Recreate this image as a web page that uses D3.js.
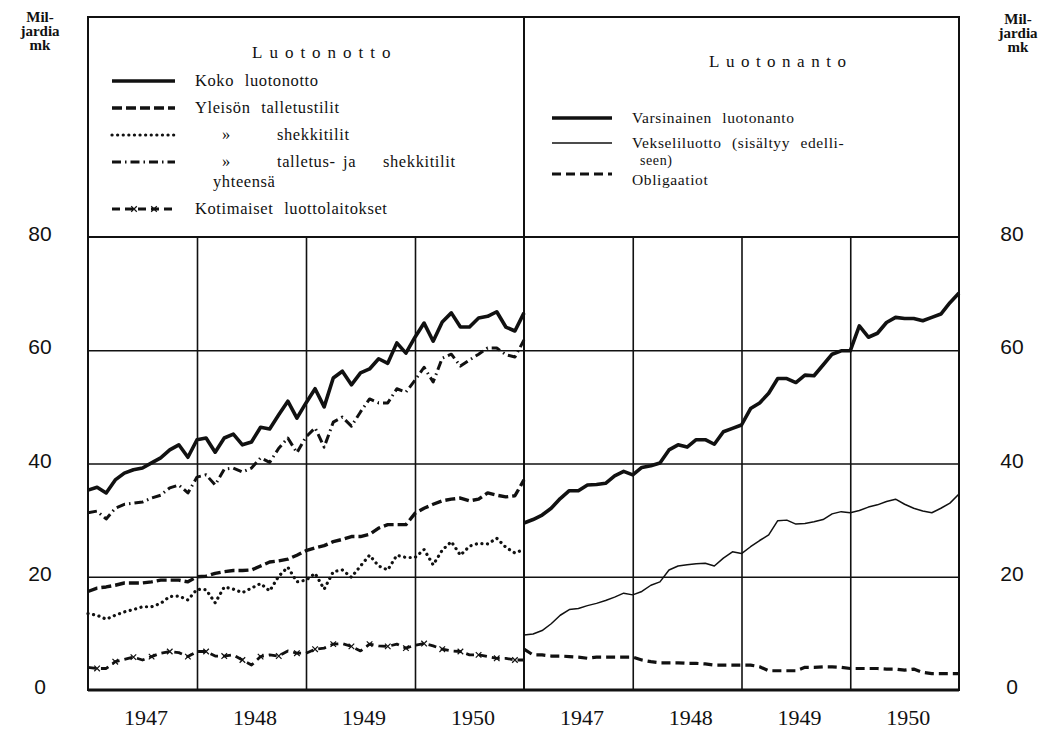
<!DOCTYPE html>
<html>
<head>
<meta charset="utf-8">
<script src="https://cdn.jsdelivr.net/npm/d3@7"></script>
<style>
  body { margin: 0; background: #fff; }
  text { fill: #111; }
</style>
</head>
<body>
<div id="wrapper"></div>
<script>
// monthly values, end of Dec 1946 .. end of Dec 1950 (49 points), milliards mk
const years = ["1947", "1948", "1949", "1950"]
const yTicks = [0, 20, 40, 60, 80]

// Luotonotto (left panel)
const kokoLuotonotto = [35.3, 35.8, 34.8, 37.1, 38.3, 38.9, 39.2, 40.1, 41.0, 42.4, 43.3, 41.1, 44.2,
  44.5, 42.0, 44.5, 45.2, 43.3, 43.8, 46.4, 46.1, 48.6, 51.0, 48.0, 50.7,
  53.2, 50.0, 55.1, 56.3, 53.9, 56.0, 56.7, 58.5, 57.7, 61.3, 59.5, 62.3,
  64.8, 61.6, 65.0, 66.6, 64.1, 64.1, 65.7, 66.0, 66.8, 64.1, 63.4, 66.6]
const talletustilit = [17.4, 18.0, 18.2, 18.5, 18.9, 18.9, 18.9, 19.1, 19.4, 19.4, 19.4, 19.1, 20.0,
  20.1, 20.6, 20.9, 21.1, 21.1, 21.2, 21.9, 22.6, 22.8, 23.1, 23.8, 24.6,
  25.1, 25.5, 26.2, 26.6, 27.1, 27.1, 27.5, 28.6, 29.2, 29.2, 29.2, 31.2,
  32.1, 32.8, 33.4, 33.7, 33.9, 33.4, 33.7, 34.8, 34.4, 34.1, 34.3, 37.1]
const shekkitilit = [13.5, 13.2, 12.5, 13.2, 13.8, 14.2, 14.7, 14.7, 15.3, 16.5, 16.6, 15.9, 17.8,
  17.7, 15.4, 18.2, 17.8, 17.2, 18.0, 18.8, 17.5, 20.1, 21.7, 19.1, 19.4,
  20.6, 17.8, 20.9, 21.2, 19.9, 21.9, 23.8, 21.9, 21.2, 23.8, 23.4, 23.4,
  24.8, 22.1, 24.7, 26.2, 23.8, 25.4, 25.9, 25.8, 26.8, 25.2, 24.2, 24.8]
const yhteensa = [31.3, 31.6, 30.2, 32.1, 32.8, 33.0, 33.2, 33.9, 34.4, 35.7, 36.2, 34.8, 37.6,
  38.0, 36.2, 39.0, 39.2, 38.5, 39.2, 41.0, 40.2, 42.7, 44.5, 41.9, 44.7,
  46.3, 42.9, 47.3, 48.2, 46.6, 49.1, 51.4, 50.7, 50.7, 53.2, 52.6, 54.7,
  57.0, 54.4, 58.6, 59.3, 57.2, 58.3, 59.3, 60.4, 60.4, 59.2, 58.8, 61.8]
const kotimaiset = [4.0, 3.8, 3.8, 5.0, 5.4, 5.8, 5.3, 5.9, 6.5, 6.8, 6.6, 5.9, 6.8,
  6.8, 6.0, 6.0, 6.2, 5.3, 4.4, 5.9, 6.2, 6.0, 6.9, 6.5, 6.5,
  7.2, 7.4, 8.1, 8.2, 7.7, 6.9, 8.1, 7.8, 7.7, 8.1, 7.4, 7.9,
  8.2, 7.8, 7.2, 6.9, 6.8, 6.2, 6.2, 5.9, 5.6, 5.6, 5.3, 5.3]

// Luotonanto (right panel)
const varsinainen = [29.5, 30.1, 30.9, 32.1, 33.8, 35.2, 35.2, 36.2, 36.3, 36.5, 37.8, 38.6, 38.0,
  39.3, 39.6, 40.1, 42.4, 43.3, 42.9, 44.2, 44.2, 43.4, 45.6, 46.2, 46.8,
  49.7, 50.7, 52.4, 55.0, 55.0, 54.3, 55.6, 55.5, 57.4, 59.3, 59.9, 59.9,
  64.3, 62.3, 63.0, 64.9, 65.8, 65.6, 65.6, 65.2, 65.8, 66.4, 68.4, 70.1]
const vekseliluotto = [9.7, 9.9, 10.5, 11.7, 13.2, 14.2, 14.4, 14.9, 15.3, 15.8, 16.4, 17.1, 16.8,
  17.4, 18.5, 19.1, 21.2, 21.9, 22.1, 22.3, 22.4, 21.9, 23.3, 24.4, 24.1,
  25.3, 26.4, 27.4, 29.9, 30.0, 29.3, 29.4, 29.7, 30.1, 31.1, 31.5, 31.3,
  31.7, 32.3, 32.7, 33.3, 33.7, 32.8, 32.1, 31.6, 31.3, 32.1, 33.0, 34.6]
const obligaatiot = [7.2, 6.2, 6.2, 6.0, 6.0, 5.9, 5.8, 5.6, 5.8, 5.8, 5.8, 5.8, 5.8,
  5.3, 5.0, 4.8, 4.8, 4.8, 4.7, 4.7, 4.6, 4.4, 4.4, 4.4, 4.4,
  4.4, 4.1, 3.4, 3.4, 3.4, 3.4, 4.0, 4.0, 4.1, 4.1, 4.0, 3.8,
  3.8, 3.8, 3.8, 3.7, 3.7, 3.5, 3.7, 3.1, 2.9, 2.9, 2.9, 2.9]

function drawChart() {
  const dimensions = {
    width: 1042,
    height: 730,
    legendTop: 17,
    plotTop: 237,
    plotBottom: 690,
    left: 88,
    middle: 524,
    right: 959,
  }

  const svg = d3.select("#wrapper")
    .append("svg")
      .attr("width", dimensions.width)
      .attr("height", dimensions.height)
      .style("font-family", "'Liberation Serif', serif")

  const yScale = d3.scaleLinear()
    .domain([0, 80])
    .range([dimensions.plotBottom, dimensions.plotTop])
  const xLeft = d3.scaleLinear()
    .domain([0, 48])
    .range([dimensions.left, dimensions.middle])
  const xRight = d3.scaleLinear()
    .domain([0, 48])
    .range([dimensions.middle, dimensions.right])

  // grid
  const hGrid = svg.append("g")
    .attr("transform", `translate(${dimensions.left},0)`)
    .call(d3.axisLeft(yScale)
      .tickValues([20, 40, 60])
      .tickSize(-(dimensions.right - dimensions.left))
      .tickFormat(""))
  hGrid.select(".domain").remove()
  hGrid.selectAll("line").attr("stroke", "#111").attr("stroke-width", 1.6)

  ;[xLeft, xRight].forEach(x => {
    const vGrid = svg.append("g")
      .attr("transform", `translate(0,${dimensions.plotBottom})`)
      .call(d3.axisBottom(x)
        .tickValues([12, 24, 36])
        .tickSize(-(dimensions.plotBottom - dimensions.plotTop))
        .tickFormat(""))
    vGrid.select(".domain").remove()
    vGrid.selectAll("line").attr("stroke", "#111").attr("stroke-width", 1.6)
  })

  // frame
  svg.append("rect")
    .attr("x", dimensions.left)
    .attr("y", dimensions.legendTop)
    .attr("width", dimensions.right - dimensions.left)
    .attr("height", dimensions.plotBottom - dimensions.legendTop)
    .attr("fill", "none")
    .attr("stroke", "#111")
    .attr("stroke-width", 2)
  svg.append("line")
    .attr("x1", dimensions.middle).attr("x2", dimensions.middle)
    .attr("y1", dimensions.legendTop).attr("y2", dimensions.plotBottom)
    .attr("stroke", "#111").attr("stroke-width", 2)
  svg.append("line")
    .attr("x1", dimensions.left).attr("x2", dimensions.right)
    .attr("y1", yScale(80)).attr("y2", yScale(80))
    .attr("stroke", "#111").attr("stroke-width", 2)
  svg.append("line")
    .attr("x1", dimensions.left).attr("x2", dimensions.right)
    .attr("y1", yScale(0)).attr("y2", yScale(0))
    .attr("stroke", "#111").attr("stroke-width", 3)

  // y labels both sides
  ;[40, 1012].forEach(xPos => {
    const yAxis = svg.append("g")
      .attr("transform", `translate(${xPos},-3)`)
      .call(d3.axisLeft(yScale).tickValues(yTicks).tickSize(0).tickPadding(0))
    yAxis.select(".domain").remove()
    yAxis.selectAll("text")
      .attr("text-anchor", "middle")
      .style("font-family", "'Liberation Sans', sans-serif")
      .style("font-size", "21px")
      .attr("fill", "#111")
  })

  // year labels
  ;[xLeft, xRight].forEach(x => {
    const xAxis = svg.append("g")
      .attr("transform", `translate(3,${dimensions.plotBottom})`)
      .call(d3.axisBottom(x)
        .tickValues([6, 18, 30, 42])
        .tickFormat((d, i) => years[i])
        .tickSize(0)
        .tickPadding(19))
    xAxis.select(".domain").remove()
    xAxis.selectAll("text")
      .style("font-family", "'Liberation Serif', serif")
      .style("font-size", "22px")
      .attr("fill", "#111")
  })

  // unit labels
  ;[[40, 0], [1018, 2]].forEach(([xPos, off]) => {
    ["Mil-", "jardia", "mk"].forEach((t, i) => {
      svg.append("text")
        .attr("x", xPos)
        .attr("y", 22 + off + i * 14)
        .attr("text-anchor", "middle")
        .style("font-size", "15px")
        .style("font-weight", "bold")
        .text(t)
    })
  })

  // series
  const series = [
    { values: kokoLuotonotto, x: xLeft, width: 3.6, dash: null },
    { values: yhteensa, x: xLeft, width: 3, dash: "9,4,1.5,4", cap: "butt" },
    { values: talletustilit, x: xLeft, width: 3.4, dash: "10,4" },
    { values: shekkitilit, x: xLeft, width: 3.2, dash: "0.1,5.5", cap: "round" },
    { values: kotimaiset, x: xLeft, width: 2.8, dash: "8,5", marks: true },
    { values: varsinainen, x: xRight, width: 3.6, dash: null },
    { values: vekseliluotto, x: xRight, width: 1.5, dash: null },
    { values: obligaatiot, x: xRight, width: 3.2, dash: "9,5" },
  ]

  series.forEach(s => {
    const lineGenerator = d3.line()
      .x((d, i) => s.x(i))
      .y(d => yScale(d))
    svg.append("path")
      .attr("d", lineGenerator(s.values))
      .attr("fill", "none")
      .attr("stroke", "#111")
      .attr("stroke-width", s.width)
      .attr("stroke-linejoin", "round")
      .attr("stroke-linecap", s.cap || "butt")
      .attr("stroke-dasharray", s.dash)
    if (s.marks) {
      svg.append("g").selectAll("path")
        .data(s.values.map((v, i) => [i, v]).filter(d => d[0] % 2 == 1))
        .join("path")
          .attr("transform", d => `translate(${s.x(d[0])},${yScale(d[1])})`)
          .attr("d", d3.symbol().type(d3.symbolTimes || d3.symbolCross).size(22))
          .attr("fill", "none")
          .attr("stroke", "#111")
          .attr("stroke-width", 1.2)
    }
  })

  // legends
  svg.append("text")
    .attr("x", 252).attr("y", 58)
    .style("font-size", "17px")
    .style("letter-spacing", "7px")
    .text("Luotonotto")
  svg.append("text")
    .attr("x", 709).attr("y", 67)
    .style("font-size", "17px")
    .style("letter-spacing", "6.5px")
    .text("Luotonanto")

  const legendLeft = [
    { y: 81, text: [[195, "Koko luotonotto"]], width: 3.6, dash: null },
    { y: 108, text: [[195, "Yleisön talletustilit"]], width: 3.4, dash: "10,4" },
    { y: 135, text: [[222, "»"], [277, "shekkitilit"]], width: 3.2, dash: "0.1,5.5", cap: "round" },
    { y: 162, text: [[222, "»"], [277, "talletus-"], [343, "ja"], [383, "shekkitilit"]], width: 3, dash: "9,4,1.5,4" },
    { y: 209, text: [[195, "Kotimaiset luottolaitokset"]], width: 2.8, dash: "8,5", marks: true },
  ]
  const legendRight = [
    { y: 118, text: [[632, "Varsinainen luotonanto"]], width: 3.6, dash: null },
    { y: 143, text: [[632, "Vekseliluotto (sisältyy edelli-"]], width: 1.5, dash: null },
    { y: 174, text: [[632, "Obligaatiot"]], width: 3.2, dash: "9,5", ty: 180 },
  ]

  const drawLegend = (items, x1, x2, fontSize) => {
    items.forEach(item => {
      svg.append("line")
        .attr("x1", x1).attr("x2", x2)
        .attr("y1", item.y).attr("y2", item.y)
        .attr("stroke", "#111")
        .attr("stroke-width", item.width)
        .attr("stroke-linecap", item.cap || "butt")
        .attr("stroke-dasharray", item.dash)
      if (item.marks) {
        [x1 + 22, x1 + 42].forEach(mx => {
          svg.append("path")
            .attr("transform", `translate(${mx},${item.y})`)
            .attr("d", d3.symbol().type(d3.symbolTimes || d3.symbolCross).size(22))
            .attr("fill", "none").attr("stroke", "#111").attr("stroke-width", 1.2)
        })
      }
      item.text.forEach(([tx, t]) => {
        svg.append("text")
          .attr("x", tx)
          .attr("y", (item.ty || item.y) + 5)
          .style("font-size", fontSize + "px")
          .style("letter-spacing", "0.6px")
          .style("word-spacing", "6px")
          .text(t)
      })
    })
  }
  drawLegend(legendLeft, 112, 175, 16.5)
  drawLegend(legendRight, 552, 612, 15.5)

  svg.append("text").attr("x", 213).attr("y", 187)
    .style("font-size", "16.5px").style("letter-spacing", "0.6px").text("yhteensä")
  svg.append("text").attr("x", 640).attr("y", 165)
    .style("font-size", "14px").style("letter-spacing", "0.6px").text("seen)")
}

drawChart()
</script>
</body>
</html>
